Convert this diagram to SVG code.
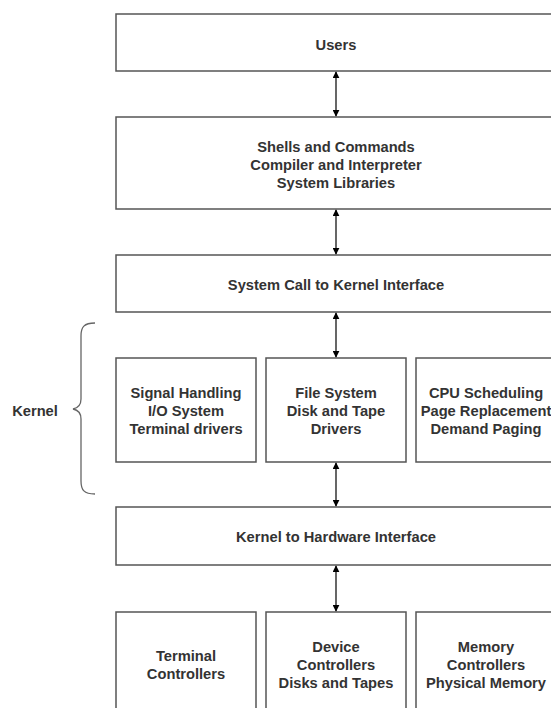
<svg xmlns="http://www.w3.org/2000/svg" width="551" height="708" viewBox="0 0 551 708">
  <defs>
    <style>
      .box { fill: #ffffff; stroke: #555555; stroke-width: 1.5; }
      .lbl { font-family: "Liberation Sans", Arial, sans-serif; font-size: 14.7px; font-weight: bold; fill: #333333; text-anchor: middle; }
      .link { stroke: #000000; stroke-width: 1.2; fill: none; marker-start: url(#head); marker-end: url(#head); }
      .brace { stroke: #666666; stroke-width: 1.3; fill: none; }
    </style>
    <marker id="head" viewBox="0 0 10 10" refX="9" refY="5" markerWidth="7" markerHeight="7" markerUnits="userSpaceOnUse" orient="auto-start-reverse">
      <path d="M0,0 L10,5 L0,10 z" fill="#000000"/>
    </marker>
  </defs>
  <rect width="551" height="708" fill="#ffffff"/>

  <g id="users">
    <rect class="box" x="116" y="14" width="440" height="57"/>
    <text class="lbl" x="336" y="50">Users</text>
  </g>

  <g id="shells">
    <rect class="box" x="116" y="117" width="440" height="92"/>
    <text class="lbl" x="336" y="152">Shells and Commands</text>
    <text class="lbl" x="336" y="170">Compiler and Interpreter</text>
    <text class="lbl" x="336" y="188">System Libraries</text>
  </g>

  <g id="syscall">
    <rect class="box" x="116" y="255" width="440" height="57"/>
    <text class="lbl" x="336" y="290">System Call to Kernel Interface</text>
  </g>

  <g id="kernel-label">
    <text class="lbl" x="35" y="416">Kernel</text>
    <path class="brace" d="M95,323 C84,323 81,327 81,336 L81,399 C81,405 78,408 73,409 C78,410 81,413 81,419 L81,481 C81,490 84,494 95,494"/>
  </g>

  <g id="signals">
    <rect class="box" x="116" y="358" width="140" height="104"/>
    <text class="lbl" x="186" y="398">Signal Handling</text>
    <text class="lbl" x="186" y="416">I/O System</text>
    <text class="lbl" x="186" y="434">Terminal drivers</text>
  </g>

  <g id="filesystem">
    <rect class="box" x="266" y="358" width="140" height="104"/>
    <text class="lbl" x="336" y="398">File System</text>
    <text class="lbl" x="336" y="416">Disk and Tape</text>
    <text class="lbl" x="336" y="434">Drivers</text>
  </g>

  <g id="scheduling">
    <rect class="box" x="416" y="358" width="140" height="104"/>
    <text class="lbl" x="486" y="398">CPU Scheduling</text>
    <text class="lbl" x="486" y="416">Page Replacement</text>
    <text class="lbl" x="486" y="434">Demand Paging</text>
  </g>

  <g id="hwiface">
    <rect class="box" x="116" y="507" width="440" height="58"/>
    <text class="lbl" x="336" y="542">Kernel to Hardware Interface</text>
  </g>

  <g id="terminal-ctrl">
    <rect class="box" x="116" y="612" width="140" height="104"/>
    <text class="lbl" x="186" y="661">Terminal</text>
    <text class="lbl" x="186" y="679">Controllers</text>
  </g>

  <g id="device-ctrl">
    <rect class="box" x="266" y="612" width="140" height="104"/>
    <text class="lbl" x="336" y="652">Device</text>
    <text class="lbl" x="336" y="670">Controllers</text>
    <text class="lbl" x="336" y="688">Disks and Tapes</text>
  </g>

  <g id="memory-ctrl">
    <rect class="box" x="416" y="612" width="140" height="104"/>
    <text class="lbl" x="486" y="652">Memory</text>
    <text class="lbl" x="486" y="670">Controllers</text>
    <text class="lbl" x="486" y="688">Physical Memory</text>
  </g>

  <g id="connectors">
    <line class="link" x1="336" y1="72" x2="336" y2="116"/>
    <line class="link" x1="336" y1="210" x2="336" y2="254"/>
    <line class="link" x1="336" y1="313" x2="336" y2="357"/>
    <line class="link" x1="336" y1="463" x2="336" y2="506"/>
    <line class="link" x1="336" y1="566" x2="336" y2="611"/>
  </g>
</svg>
